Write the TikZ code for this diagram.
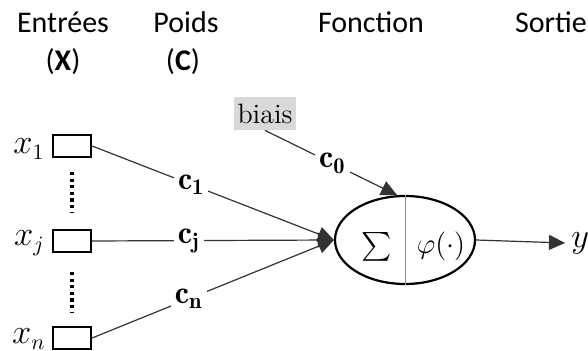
\documentclass[tikz,border=0pt]{standalone}
\usepackage{fontspec}
\usepackage{amsmath}
\newfontfamily\headfont{Carlito}
\usetikzlibrary{arrows.meta,shapes.geometric}
\definecolor{biasgray}{RGB}{217,217,217}
\definecolor{splitblue}{RGB}{91,155,213}
\definecolor{linegray}{RGB}{50,50,50}
\tikzset{
  conn/.style={draw=linegray, line width=0.6pt},
  arr/.style={conn, -{Triangle[length=8pt,width=7.5pt]}},
  inbox/.style={
    draw, line width=1.1pt,
    minimum width=19pt, minimum height=11pt, inner sep=0pt
  },
  xlab/.style={anchor=base east, inner sep=0pt, font=\fontsize{16}{19}\selectfont},
  weight/.style={fill=white, inner sep=2pt, font=\fontsize{16}{19}\selectfont},
  head/.style={anchor=base, inner sep=0pt, font=\headfont\fontsize{15}{18}\selectfont},
  biasbox/.style={
    fill=biasgray, inner sep=0pt,
    minimum width=31pt, minimum height=16.5pt,
    font=\fontsize{14}{16}\selectfont
  },
  funcell/.style={
    ellipse, draw, line width=1.1pt, inner sep=0pt,
    minimum width=70pt, minimum height=44pt
  },
  dotline/.style={line width=1.6pt, dash pattern=on 1.6pt off 1.7pt}
}

\begin{document}
\begin{tikzpicture}[x=0.5pt,y=-0.5pt]
\useasboundingbox (0,0) rectangle (588,351);

%--------------------------------------------------
% Column headings
%--------------------------------------------------
\node[head] (entrees) at (63,33) {Entrées};
\node[head] (entreesx) at (63,71) {(\textbf{X})};
\node[head] (poids) at (186,33) {Poids};
\node[head] (poidsc) at (183,71) {(\textbf{C})};
\node[head] (fonction) at (371,33) {Fonction};
\node[head] (sortie) at (551,33) {Sortie};

%--------------------------------------------------
% Inputs
%--------------------------------------------------
\node[inbox] (in1) at (72,146) {};
\node[inbox] (inj) at (72,241) {};
\node[inbox] (inn) at (72,338) {};

\node[xlab] (x1) at (45,154) {$x_1$};
\node[xlab] (xj) at (45,246) {$x_j$};
\node[xlab] (xn) at (46,344) {$x_n$};

\coordinate (d1a) at (72,172);
\coordinate (d1b) at (72,213);
\coordinate (d2a) at (72,272);
\coordinate (d2b) at (72,313);
\draw[dotline] (d1a) -- (d1b);
\draw[dotline] (d2a) -- (d2b);

%--------------------------------------------------
% Neuron: sum and activation
%--------------------------------------------------
\node[funcell] (fn) at (405,240) {};
\draw[splitblue, line width=0.5pt] (fn.north) -- (fn.south);

\node[font=\fontsize{14}{16}\selectfont] (sum) at (377,247) {$\textstyle\sum$};
\node[font=\fontsize{15}{18}\selectfont] (phi) at (441,246) {$\varphi(\cdot)$};

% bias
\node[biasbox] (bias) at (265,113.5) {biais};
\draw[arr] (bias.south) -- node[weight, pos=0.51] {$\mathbf{c}_{\mathbf{0}}$} (fn.100);

% weighted inputs
\draw[arr] (in1.east) -- node[weight, pos=0.41] {$\mathbf{c}_{\mathbf{1}}$} (fn.west);
\draw[arr] (inj.east) -- node[weight, pos=0.40] {$\mathbf{c}_{\mathbf{j}}$} (fn.west);
\draw[arr] (inn.east) -- node[weight, pos=0.40] {$\mathbf{c}_{\mathbf{n}}$} (fn.west);

%--------------------------------------------------
% Output
%--------------------------------------------------
\node[anchor=west, inner sep=3pt, font=\fontsize{16}{19}\selectfont] (yout) at (565,243) {$y$};
\draw[arr] (fn.east) -- (yout.west);

\end{tikzpicture}
\end{document}
